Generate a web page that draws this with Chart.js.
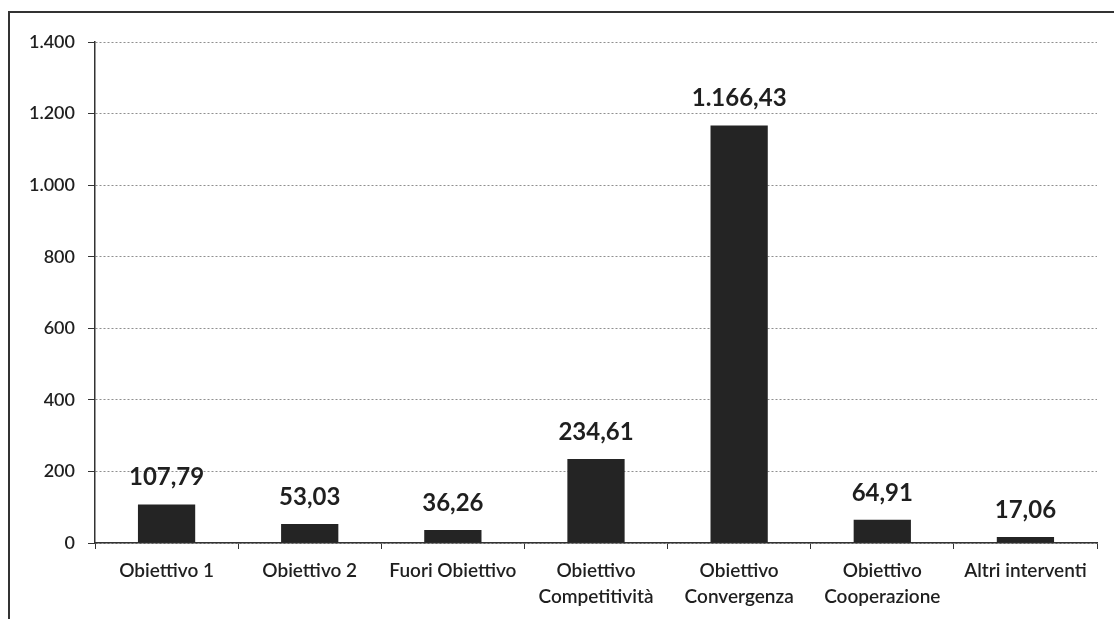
<!DOCTYPE html>
<html>
<head>
<meta charset="utf-8">
<script src="https://cdn.jsdelivr.net/npm/chart.js@4"></script>
<style>
  html, body { margin: 0; padding: 0; background: #fff; }
  #wrap { position: relative; width: 1114px; height: 619px; }
  #frame { position: absolute; left: 8px; top: 11px; right: 0; bottom: 0;
           border-left: 2px solid #333; border-top: 2px solid #333; pointer-events: none; }
  canvas { position: absolute; left: 0; top: 0; }
</style>
</head>
<body>
<div id="wrap">
  <canvas id="c" width="1114" height="619"></canvas>
  <div id="frame"></div>
</div>
<script>
const categories = [
  "Obiettivo 1",
  "Obiettivo 2",
  "Fuori Obiettivo",
  ["Obiettivo", "Competitività"],
  ["Obiettivo", "Convergenza"],
  ["Obiettivo", "Cooperazione"],
  "Altri interventi"
];
const values = [107.79, 53.03, 36.26, 234.61, 1166.43, 64.91, 17.06];
const yTicks = [0, 200, 400, 600, 800, 1000, 1200, 1400];

function fmtIt(v, dec) {
  const parts = v.toFixed(dec).split(".");
  parts[0] = parts[0].replace(/\B(?=(\d{3})+(?!\d))/g, ".");
  return parts.join(",");
}

const FONT = "Lato, 'Open Sans', sans-serif";
const INK = "#1f1f1f";

const labelPlugin = {
  id: "valueLabels",
  afterDatasetsDraw(chart) {
    const ctx = chart.ctx;
    const meta = chart.getDatasetMeta(0);
    ctx.save();
    ctx.font = "bold 24px " + FONT;
    ctx.fillStyle = INK;
    ctx.textAlign = "center";
    ctx.textBaseline = "middle";
    meta.data.forEach((bar, i) => {
      ctx.fillText(fmtIt(values[i], 2), bar.x, bar.y - 27);
    });
    ctx.restore();
  }
};

new Chart(document.getElementById("c"), {
  type: "bar",
  data: {
    labels: categories,
    datasets: [{
      data: values,
      backgroundColor: "#242424",
      borderWidth: 0,
      barPercentage: 0.4,
      categoryPercentage: 1.0
    }]
  },
  options: {
    responsive: false,
    animation: false,
    devicePixelRatio: 1,
    layout: { padding: { top: 42, right: 17, left: 0, bottom: 0 } },
    plugins: { legend: { display: false }, tooltip: { enabled: false } },
    scales: {
      x: {
        afterFit: s => { s.height = 76; },
        grid: { display: true, drawOnChartArea: false, offset: true, tickLength: 6, tickColor: "#333", tickWidth: 1 },
        border: { display: true, color: "#333", width: 1.5 },
        ticks: { color: INK, font: { family: FONT, size: 19, weight: "600", lineHeight: 1.35 }, padding: 9, maxRotation: 0, autoSkip: false },
      },
      y: {
        min: 0, max: 1400,
        afterFit: s => { s.width = 95; },
        afterBuildTicks: s => { s.ticks = yTicks.map(v => ({ value: v })); },
        grid: { color: "#8f8f8f", lineWidth: 1, tickLength: 7, tickColor: "#333", tickBorderDash: [], drawTicks: true },
        border: { display: true, color: "#333", width: 1.5, dash: [2, 2] },
        ticks: { color: INK, font: { family: FONT, size: 18, weight: "600" }, padding: 13, callback: v => fmtIt(v, 0) }
      }
    }
  },
  plugins: [labelPlugin]
});
</script>
</body>
</html>
